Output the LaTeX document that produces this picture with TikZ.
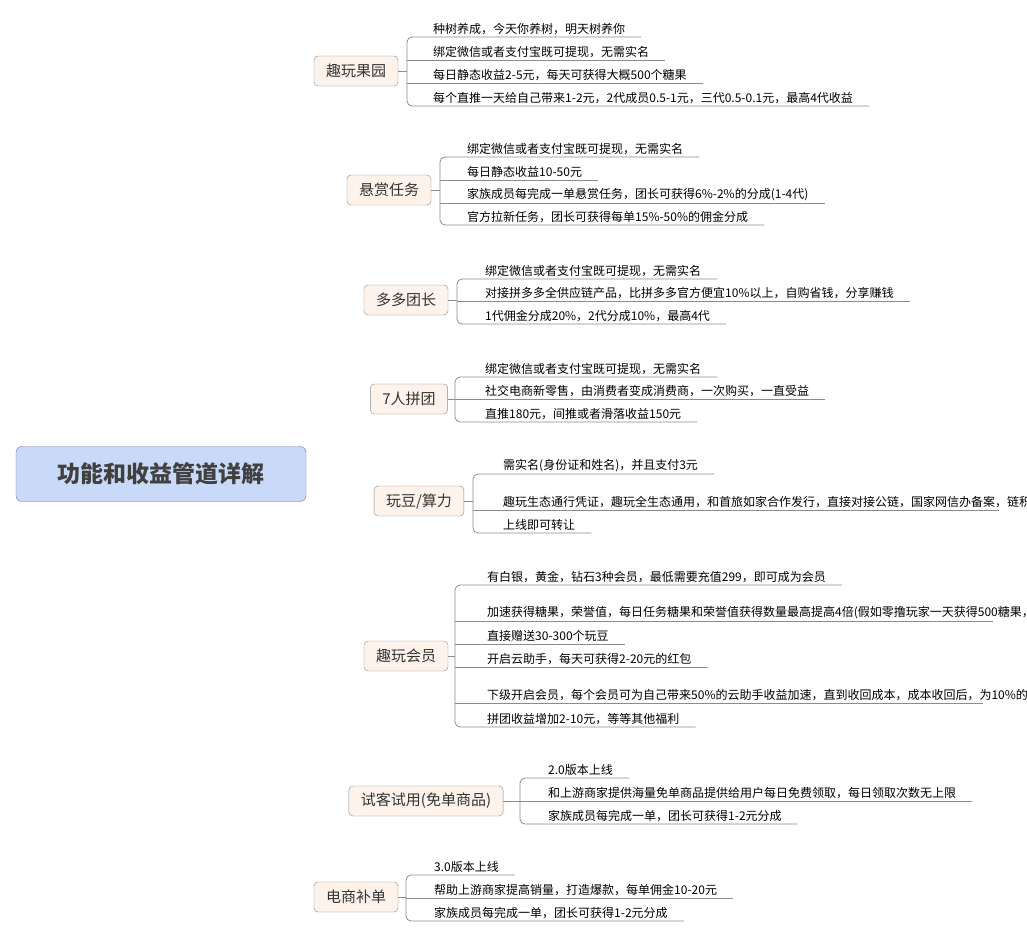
\documentclass[tikz,border=0pt]{standalone}
\usepackage{fontspec}
\setmainfont{Noto Sans CJK SC}
\usetikzlibrary{calc, backgrounds}
\definecolor{rootfill}{HTML}{C9DAF8}
\definecolor{rootdraw}{HTML}{6A7FA8}
\definecolor{topicfill}{HTML}{FDF3EA}
\definecolor{twiggray}{HTML}{8C8C8C}
\tikzset{
    root/.style={draw=rootdraw, fill=rootfill, rounded corners=6pt, minimum width=290, minimum height=55, font=\fontsize{23}{26}\selectfont\bfseries, text=black!75},
    topic/.style={draw=twiggray, fill=topicfill, rounded corners=4pt, minimum height=30, inner xsep=12, font=\fontsize{15}{17}\selectfont, text=black!80},
    leaf/.style={anchor=south west, inner xsep=0pt, inner ysep=2pt, font=\fontsize{12}{13}\selectfont, align=left},
    twig/.style={draw=twiggray, line width=0.8pt},
    branch/.style={draw=twiggray, line width=0.8pt}
}
\newcommand{\under}[2]{\draw[twig] (#2.south -| #1,0) -- ($(#2.south east)+(16,0)$);}
\newcommand{\bracket}[3]{\draw[twig, rounded corners=5pt] ($(#2.south east)+(16,0)$) -- (#2.south -| #1,0) -- (#3.south -| #1,0) -- ($(#3.south east)+(16,0)$);}

\begin{document}
\begin{tikzpicture}[x=1pt, y=-1pt]
    \useasboundingbox [fill=white] (0,0) rectangle (1027,938);

    \node [root] (R) at (161,474) {功能和收益管道详解};

    \node [topic] (T1) at (356,71) {趣玩果园};
    \node [topic] (T2) at (389,190) {悬赏任务};
    \node [topic] (T3) at (406,300) {多多团长};
    \node [topic] (T4) at (409,399) {7人拼团};
    \node [topic] (T5) at (419,501) {玩豆/算力};
    \node [topic] (T6) at (406,656) {趣玩会员};
    \node [topic] (T7) at (426,801) {试客试用(免单商品)};
    \node [topic] (T8) at (356,897) {电商补单};

    % branches from the root
    \begin{scope}[on background layer]
        \foreach \t/\sx in {T1/178, T2/186, T3/196, T4/210, T6/196, T7/186, T8/178} {
            \pgfmathsetmacro\ca{\sx+10}
            \pgfmathsetmacro\cb{\sx+40}
            \draw [branch] (\sx,474) .. controls (\t.west -| \ca,0) and (\t.west -| \cb,0) .. (\t.west);
        }
        \draw [branch] (R.east |- 0,494) .. controls (340,496) and (340,501) .. (T5.west);
    \end{scope}

    % 趣玩果园
    \node [leaf] (A1) at (433,37) {种树养成，今天你养树，明天树养你};
    \node [leaf] (A2) at (433,60) {绑定微信或者支付宝既可提现，无需实名};
    \node [leaf] (A3) at (433,83) {每日静态收益2-5元，每天可获得大概500个糖果};
    \node [leaf] (A4) at (433,106) {每个直推一天给自己带来1-2元，2代成员0.5-1元，三代0.5-0.1元，最高4代收益};
    \bracket{407}{A1}{A4} \under{407}{A2} \under{407}{A3}
    \draw [twig] (T1.east) -- (T1.east -| 407,0);

    % 悬赏任务
    \node [leaf] (B1) at (467,157) {绑定微信或者支付宝既可提现，无需实名};
    \node [leaf] (B2) at (467,180) {每日静态收益10-50元};
    \node [leaf] (B3) at (467,203) {家族成员每完成一单悬赏任务，团长可获得6\%-2\%的分成(1-4代)};
    \node [leaf] (B4) at (467,225) {官方拉新任务，团长可获得每单15\%-50\%的佣金分成};
    \bracket{440}{B1}{B4} \under{440}{B2} \under{440}{B3}
    \draw [twig] (T2.east) -- (T2.east -| 440,0);

    % 多多团长
    \node [leaf] (C1) at (485,279) {绑定微信或者支付宝既可提现，无需实名};
    \node [leaf] (C2) at (485,301) {对接拼多多全供应链产品，比拼多多官方便宜10\%以上，自购省钱，分享赚钱};
    \node [leaf] (C3) at (485,324) {1代佣金分成20\%，2代分成10\%，最高4代};
    \bracket{457}{C1}{C3} \under{457}{C2}
    \draw [twig] (T3.east) -- (T3.east -| 457,0);

    % 7人拼团
    \node [leaf] (D1) at (485,377) {绑定微信或者支付宝既可提现，无需实名};
    \node [leaf] (D2) at (485,399) {社交电商新零售，由消费者变成消费商，一次购买，一直受益};
    \node [leaf] (D3) at (485,422) {直推180元，间推或者滑落收益150元};
    \bracket{455}{D1}{D3} \under{455}{D2}
    \draw [twig] (T4.east) -- (T4.east -| 455,0);

    % 玩豆/算力
    \node [leaf] (E1) at (503,474) {需实名(身份证和姓名)，并且支付3元};
    \node [leaf, text width=480] (E2) at (503,510) {趣玩生态通行凭证，趣玩全生态通用，和首旅如家合作发行，直接对接公链，国家网信办备案，链积分浏览器公开可查};
    \node [leaf] (E3) at (503,533) {上线即可转让};
    \bracket{473}{E1}{E3} \under{473}{E2}
    \draw [twig] (T5.east) -- (T5.east -| 473,0);

    % 趣玩会员
    \node [leaf] (F1) at (487,585) {有白银，黄金，钻石3种会员，最低需要充值299，即可成为会员};
    \node [leaf, text width=490] (F2) at (487,621) {加速获得糖果，荣誉值，每日任务糖果和荣誉值获得数量最高提高4倍(假如零撸玩家一天获得500糖果，500荣誉值开启会员后就是一天最高2000糖果，2000荣誉值)};
    \node [leaf] (F3) at (487,644) {直接赠送30-300个玩豆};
    \node [leaf] (F4) at (487,667) {开启云助手，每天可获得2-20元的红包};
    \node [leaf, text width=480] (F5) at (487,703) {下级开启会员，每个会员可为自己带来50\%的云助手收益加速，直到收回成本，成本收回后，为10\%的收益加速};
    \node [leaf] (F6) at (487,727) {拼团收益增加2-10元，等等其他福利};
    \bracket{455}{F1}{F6} \under{455}{F2} \under{455}{F3} \under{455}{F4} \under{455}{F5}
    \draw [twig] (T6.east) -- (T6.east -| 455,0);

    % 试客试用
    \node [leaf] (G1) at (548,778) {2.0版本上线};
    \node [leaf] (G2) at (548,801) {和上游商家提供海量免单商品提供给用户每日免费领取，每日领取次数无上限};
    \node [leaf] (G3) at (548,824) {家族成员每完成一单，团长可获得1-2元分成};
    \bracket{520}{G1}{G3} \under{520}{G2}
    \draw [twig] (T7.east) -- (T7.east -| 520,0);

    % 电商补单
    \node [leaf] (H1) at (434,875) {3.0版本上线};
    \node [leaf] (H2) at (434,898) {帮助上游商家提高销量，打造爆款，每单佣金10-20元};
    \node [leaf] (H3) at (434,921) {家族成员每完成一单，团长可获得1-2元分成};
    \bracket{406}{H1}{H3} \under{406}{H2}
    \draw [twig] (T8.east) -- (T8.east -| 406,0);
\end{tikzpicture}
\end{document}
